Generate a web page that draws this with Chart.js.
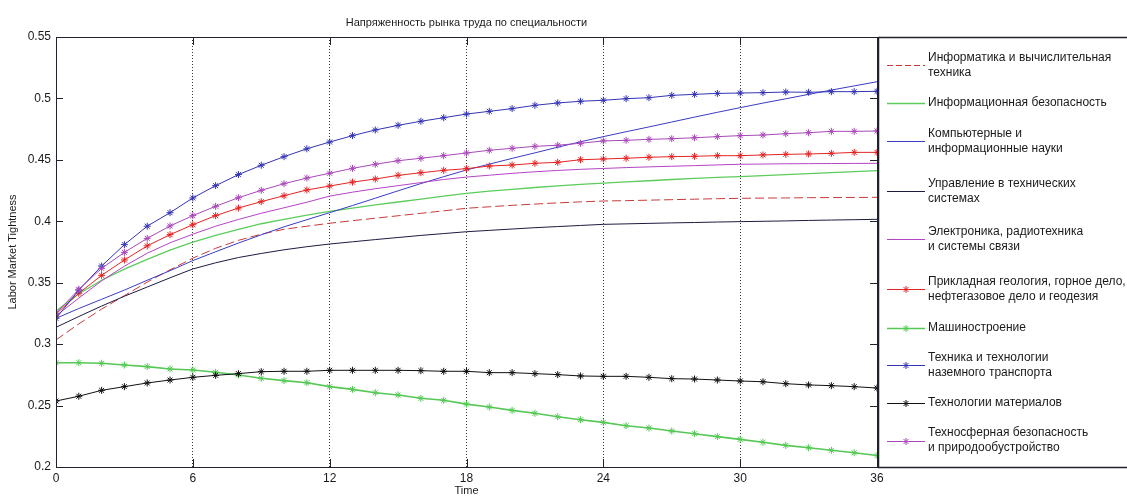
<!DOCTYPE html>
<html>
<head>
<meta charset="utf-8">
<script src="https://cdn.jsdelivr.net/npm/chart.js@4.4.1/dist/chart.umd.min.js"></script>
<style>
  html, body { margin: 0; padding: 0; background: #fff; }
</style>
</head>
<body>
<canvas id="chart" width="1127" height="498"></canvas>
<script>
const timeSteps = [0,1,2,3,4,5,6,7,8,9,10,11,12,13,14,15,16,17,18,19,20,21,22,23,24,25,26,27,28,29,30,31,32,33,34,35,36];
const xTicks = [0, 6, 12, 18, 24, 30, 36];
const yTicks = [0.2, 0.25, 0.3, 0.35, 0.4, 0.45, 0.5, 0.55];

const informatika = [.3034,.3165,.3285,.3395,.3505,.3605,.370,.378,.3845,.3895,.3935,.396,.3984,.4005,.4025,.4045,.4065,.4085,.4106,.4118,.413,.414,.415,.4158,.4165,.4168,.4172,.4176,.418,.4184,.4187,.4189,.419,.4192,.4193,.4194,.4195];
const infoSecurity = [.327,.341,.352,.361,.369,.3765,.383,.3885,.3935,.398,.4015,.405,.408,.4107,.4133,.4157,.418,.4205,.4228,.4245,.426,.4275,.4288,.43,.431,.432,.433,.434,.435,.4357,.4363,.4372,.438,.4388,.4396,.4404,.4412];
const computerSci = [.321,.329,.3365,.344,.352,.3598,.368,.3752,.3823,.389,.3955,.4013,.407,.4128,.4188,.4248,.4307,.4363,.4418,.4465,.4512,.4557,.4603,.4647,.4689,.4729,.4768,.4808,.4848,.4887,.4925,.4962,.4997,.5033,.5068,.5102,.5136];
const controlSys = [.3137,.3225,.331,.339,.3465,.354,.3612,.3662,.3705,.3738,.3768,.3793,.3815,.3833,.3851,.3868,.3885,.39,.3915,.3926,.3937,.3948,.3957,.3966,.3975,.3979,.3983,.3987,.399,.3994,.3997,.4,.4003,.4007,.401,.4013,.4016];
const electronics = [.323,.3375,.3515,.3635,.374,.3825,.3895,.396,.4015,.4065,.411,.4155,.4205,.4237,.4265,.429,.4315,.434,.436,.4375,.439,.4403,.4414,.4423,.443,.4437,.4443,.4448,.4453,.4459,.4464,.4466,.4468,.4469,.447,.4471,.4472];
const geology = [.3245,.3414,.356,.3685,.380,.3891,.3972,.4046,.4108,.416,.4208,.4255,.4287,.4319,.4344,.4374,.4395,.4415,.4428,.445,.4458,.4472,.448,.4501,.4507,.4513,.4521,.4526,.4529,.4534,.4534,.454,.4545,.4548,.4553,.4561,.4561];
const mechEng = [.2849,.2849,.2844,.283,.2817,.2798,.279,.2771,.2749,.2722,.2703,.2686,.2654,.2632,.2605,.2586,.2559,.2543,.2512,.2488,.2461,.2437,.2409,.2385,.2363,.2336,.2317,.2293,.2271,.2247,.2225,.2201,.2176,.2157,.2136,.2116,.2094];
const transport = [.321,.344,.3636,.381,.396,.407,.419,.429,.438,.4456,.4526,.459,.4645,.4697,.4743,.4781,.4814,.4843,.4873,.4895,.4917,.4944,.4963,.4977,.4985,.4998,.5006,.5025,.5033,.5041,.5044,.5047,.5052,.505,.5055,.5055,.5058];
const materials = [.2537,.2576,.2624,.2654,.2684,.2708,.273,.2746,.276,.2776,.2779,.2779,.2787,.2787,.2787,.2787,.2784,.2779,.2779,.2768,.2768,.276,.2752,.2741,.2738,.2738,.273,.2719,.2716,.2708,.27,.2694,.2678,.2668,.2662,.2654,.2643];
const technosphere = [.325,.3446,.3617,.3747,.3861,.3962,.4046,.4122,.4192,.4252,.4306,.4352,.4391,.4431,.4464,.4493,.4513,.4534,.4556,.4578,.4594,.461,.4619,.4635,.4654,.4659,.4667,.4672,.468,.4689,.4697,.4702,.4713,.4721,.4732,.4732,.4735];

const FONT = '"Liberation Sans", Arial, sans-serif';

// label lines, data, colour, dashed?, starred?, width
const series = [
  [['Информатика и вычислительная', 'техника'], informatika, '#c83a3a', true, false, 1],
  [['Информационная безопасность'], infoSecurity, '#5ccc5c', false, false, 1.3],
  [['Компьютерные и', 'информационные науки'], computerSci, '#3b3bc4', false, false, 1],
  [['Управление в технических', 'системах'], controlSys, '#1c1c40', false, false, 1],
  [['Электроника, радиотехника', 'и системы связи'], electronics, '#b444c4', false, false, 1],
  [['Прикладная геология, горное дело,', 'нефтегазовое дело и геодезия'], geology, '#e42424', false, true, 1],
  [['Машиностроение'], mechEng, '#55c855', false, true, 1.6],
  [['Техника и технологии', 'наземного транспорта'], transport, '#3434b4', false, true, 1],
  [['Технологии материалов'], materials, '#111111', false, true, 1],
  [['Техносферная безопасность', 'и природообустройство'], technosphere, '#a848b8', false, true, 1]
];

// legend item centres, px below the top of the axes
const legendOffsets = [28, 66, 104, 154, 202, 252, 291, 328, 366, 403.5];

const datasets = series.map((s, i) => ({
  label: s[0].join(' '),
  data: s[1],
  borderColor: s[2],
  backgroundColor: s[2],
  borderWidth: s[5],
  borderDash: s[3] ? [9, 4] : [],
  pointStyle: 'star',
  pointRadius: s[4] ? 3.5 : 0,
  pointBorderWidth: 1,
  pointBorderColor: s[2],
  tension: 0,
  order: series.length - i
}));

const frameAndLegend = {
  id: 'frameAndLegend',
  afterDraw(chart) {
    const ctx = chart.ctx;
    const a = chart.chartArea;
    const xs = chart.scales.x, ys = chart.scales.y;
    ctx.save();
    ctx.strokeStyle = '#22222e';
    ctx.lineWidth = 1;
    ctx.strokeRect(a.left + 0.5, a.top + 0.5, a.right - a.left, a.bottom - a.top);

    // inward tick marks
    ctx.beginPath();
    xTicks.forEach(v => {
      const px = Math.round(xs.getPixelForValue(v)) + 0.5;
      ctx.moveTo(px, a.bottom); ctx.lineTo(px, a.bottom - 8);
      ctx.moveTo(px, a.top); ctx.lineTo(px, a.top + 8);
    });
    yTicks.forEach(v => {
      const py = Math.round(ys.getPixelForValue(v)) + 0.5;
      ctx.moveTo(a.left, py); ctx.lineTo(a.left + 7, py);
      ctx.moveTo(a.right, py); ctx.lineTo(a.right - 7, py);
    });
    ctx.stroke();

    // legend box (open on the right)
    const lx = a.right + 1;
    ctx.fillStyle = '#fff';
    ctx.fillRect(lx + 1, a.top + 1, chart.width - lx - 1, a.bottom - a.top - 1);
    ctx.beginPath();
    ctx.lineWidth = 1.5;
    ctx.moveTo(lx + 0.5, a.top); ctx.lineTo(lx + 0.5, a.bottom + 1);
    ctx.moveTo(lx, a.top + 0.5); ctx.lineTo(chart.width, a.top + 0.5);
    ctx.moveTo(lx, a.bottom + 0.5); ctx.lineTo(chart.width, a.bottom + 0.5);
    ctx.stroke();

    ctx.font = '12px ' + FONT;
    ctx.textBaseline = 'middle';
    ctx.textAlign = 'left';
    series.forEach((s, i) => {
      const cy = a.top + legendOffsets[i];
      const sy = Math.round(cy) + 0.5;
      ctx.strokeStyle = s[2];
      ctx.lineWidth = s[5];
      ctx.setLineDash(s[3] ? [6, 3] : []);
      ctx.beginPath();
      ctx.moveTo(lx + 9, sy); ctx.lineTo(lx + 47, sy);
      ctx.stroke();
      ctx.setLineDash([]);
      if (s[4]) {
        ctx.lineWidth = 1;
        ctx.beginPath();
        const mx = lx + 28, r = 3.5;
        ctx.moveTo(mx - r, sy); ctx.lineTo(mx + r, sy);
        ctx.moveTo(mx, sy - r); ctx.lineTo(mx, sy + r);
        const d = r * 0.7;
        ctx.moveTo(mx - d, sy - d); ctx.lineTo(mx + d, sy + d);
        ctx.moveTo(mx - d, sy + d); ctx.lineTo(mx + d, sy - d);
        ctx.stroke();
      }
      ctx.fillStyle = '#1a1a1a';
      const lines = s[0];
      lines.forEach((t, k) => {
        const ty = cy + (k - (lines.length - 1) / 2) * 15;
        ctx.fillText(t, lx + 50, ty);
      });
    });
    ctx.restore();
  }
};

new Chart(document.getElementById('chart'), {
  type: 'line',
  data: { labels: timeSteps, datasets: datasets },
  options: {
    responsive: false,
    animation: false,
    devicePixelRatio: 1,
    layout: { padding: { left: 0, right: 250, top: 0, bottom: 0 } },
    plugins: {
      legend: { display: false },
      tooltip: { enabled: false },
      title: {
        display: true,
        fullSize: false,
        text: 'Напряженность рынка труда по специальности',
        color: '#1a1a1a',
        font: { family: FONT, size: 11, weight: 'normal', lineHeight: 1.2 },
        padding: { top: 16, bottom: 7.8 }
      }
    },
    scales: {
      x: {
        type: 'linear',
        min: 0, max: 36,
        afterBuildTicks: s => { s.ticks = xTicks.map(v => ({ value: v })); },
        afterFit: s => { s.height = 31; },
        grid: { display: true, color: '#333', lineWidth: 1, drawTicks: false },
        border: { display: false, dash: [1, 2] },
        ticks: { color: '#1a1a1a', padding: 4, font: { family: FONT, size: 12 } },
        title: { display: true, text: 'Time', color: '#1a1a1a', padding: { top: 0, bottom: 0 }, font: { family: FONT, size: 11 } }
      },
      y: {
        min: 0.2, max: 0.55,
        afterBuildTicks: s => { s.ticks = yTicks.map(v => ({ value: v })); },
        afterFit: s => { s.width = 56; },
        grid: { display: false, drawTicks: false },
        border: { display: false },
        ticks: { color: '#1a1a1a', padding: 5, font: { family: FONT, size: 12 }, callback: v => String(+v.toFixed(2)) },
        title: { display: true, text: 'Labor Market Tightness', color: '#1a1a1a', padding: { top: 6, bottom: 0 }, font: { family: FONT, size: 11 } }
      }
    }
  },
  plugins: [frameAndLegend]
});
</script>
</body>
</html>
